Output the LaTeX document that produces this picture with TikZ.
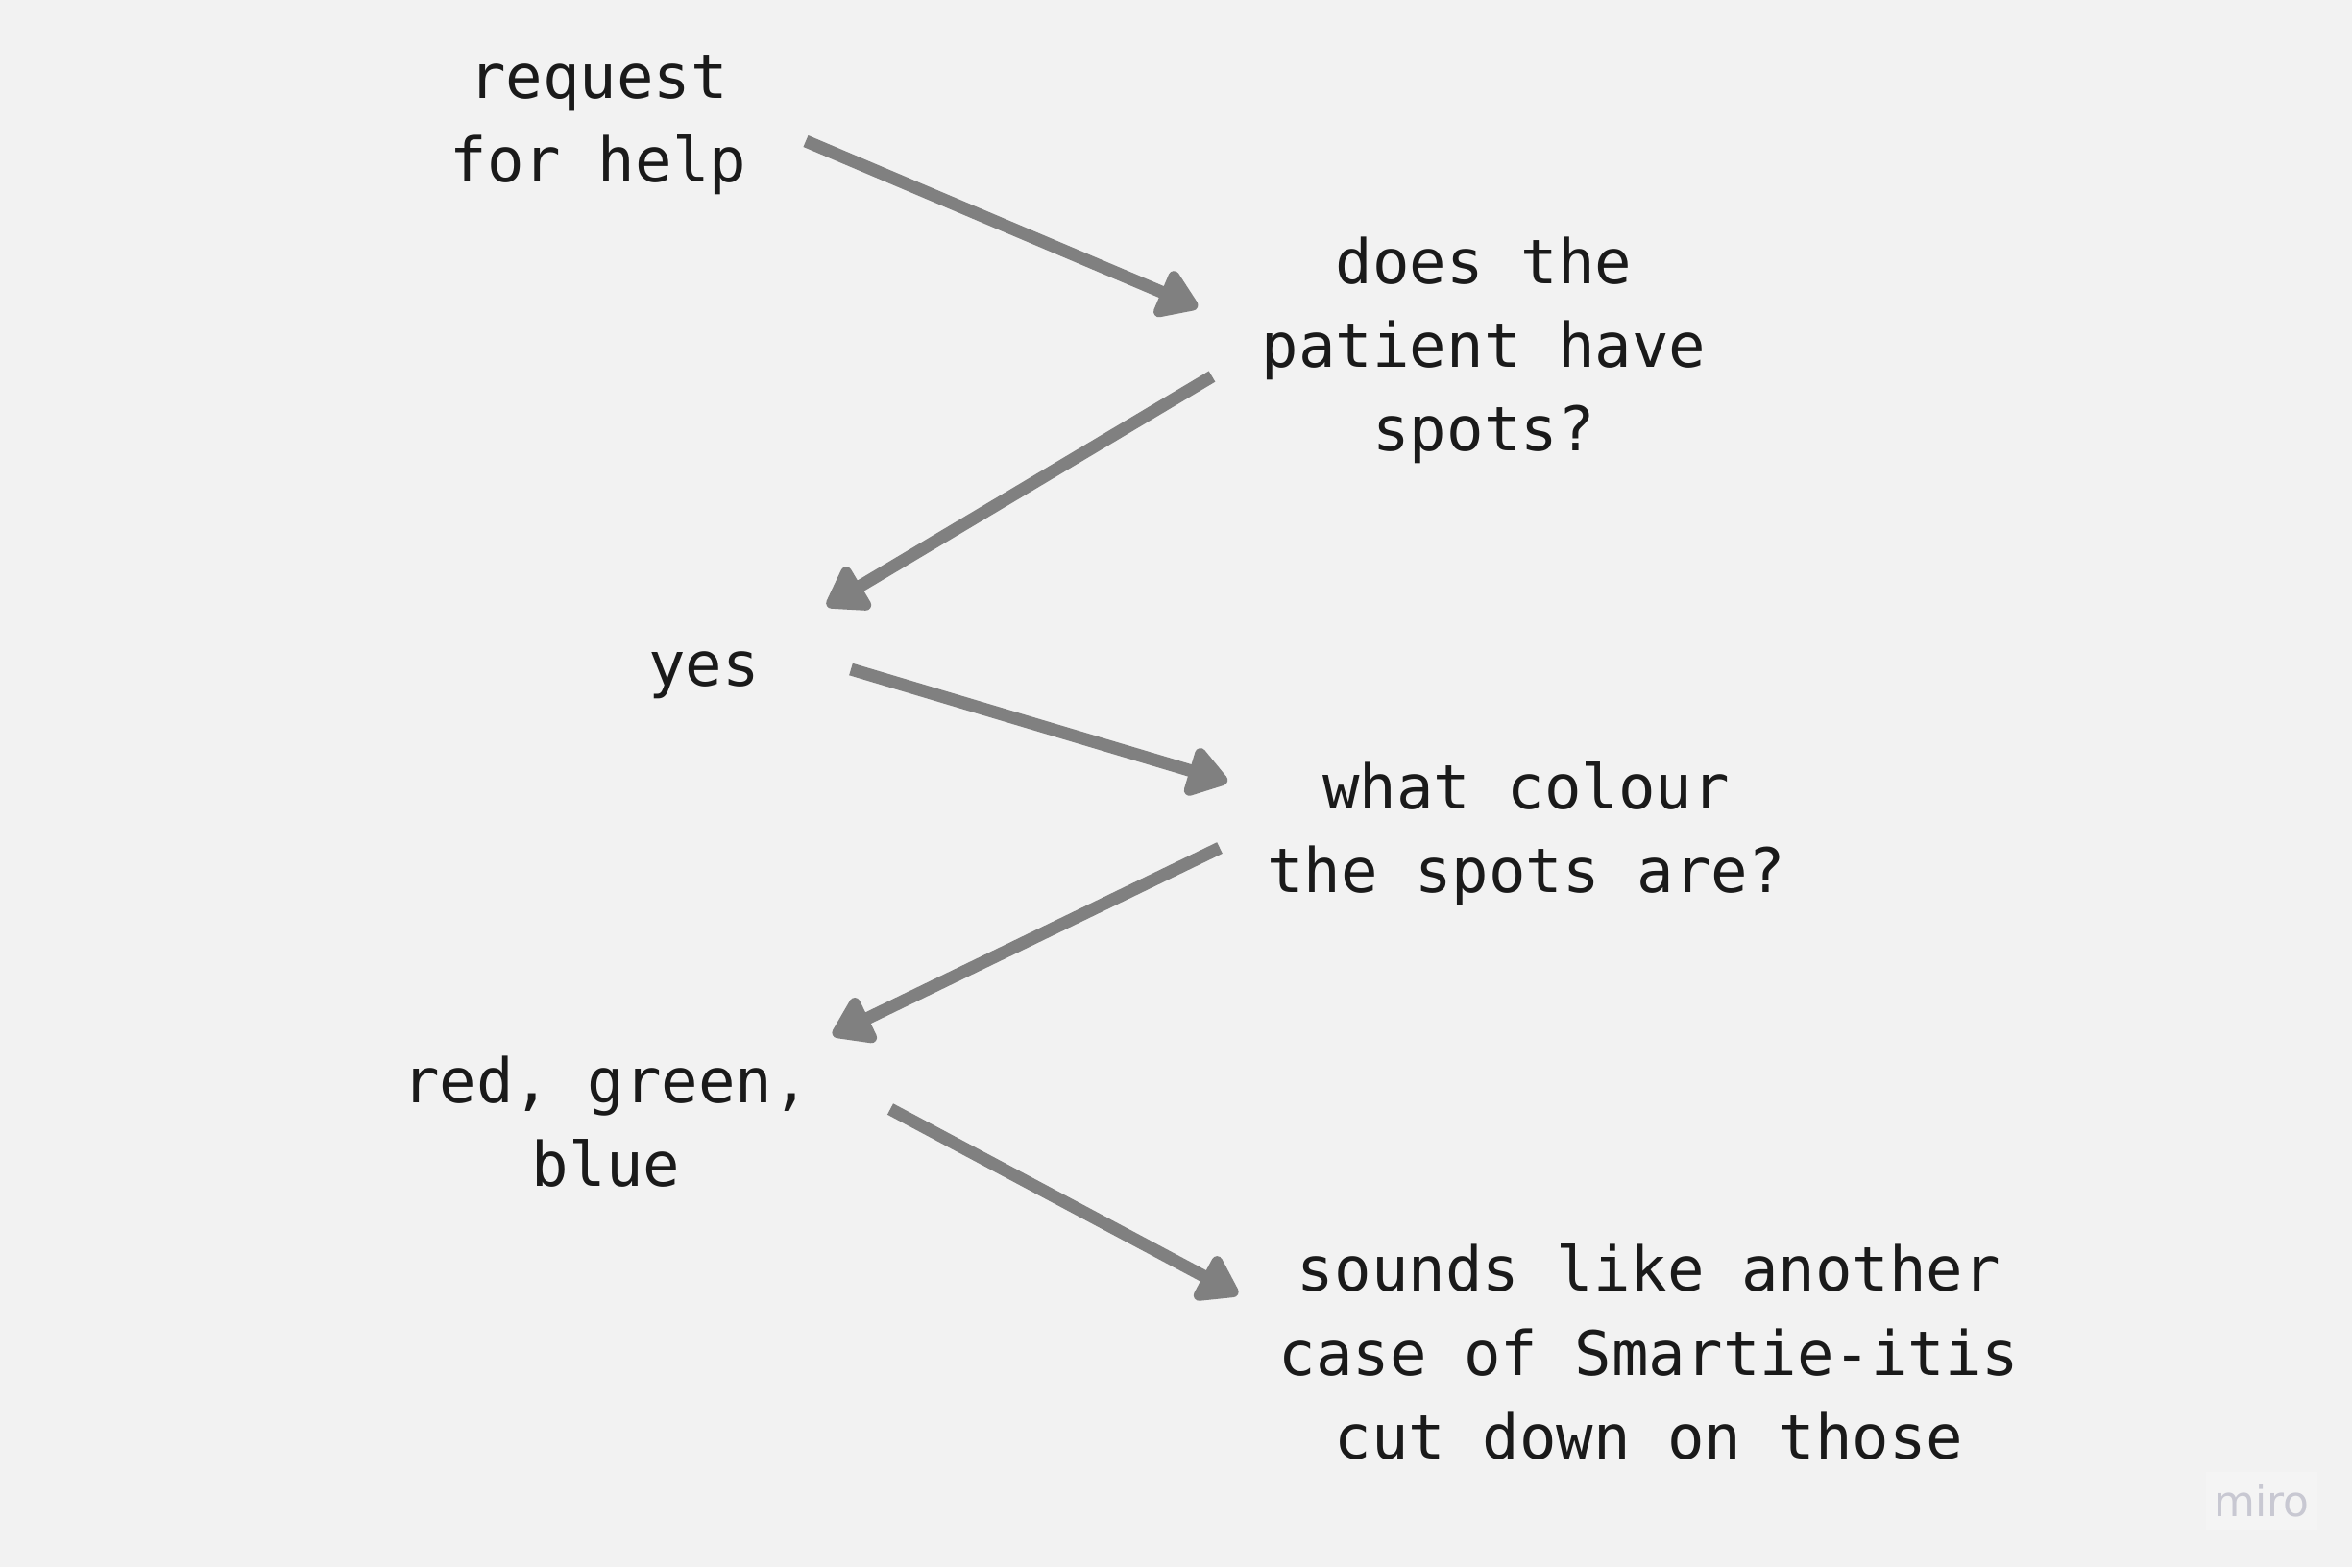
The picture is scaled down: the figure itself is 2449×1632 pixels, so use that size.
\documentclass[tikz,border=0pt]{standalone}
\usepackage{fontspec}
\setmonofont{DejaVu Sans Mono}
\newfontfamily\logofont{DejaVu Sans}
\usetikzlibrary{arrows.meta}
\definecolor{bgpaper}{HTML}{F2F2F2}
\definecolor{flowgrey}{HTML}{808080}
\definecolor{inktext}{HTML}{1A1A1A}
\definecolor{logogrey}{HTML}{C8C8D2}
\definecolor{logobox}{HTML}{F4F4F4}

\begin{document}
\begin{tikzpicture}[x=0.01cm,y=-0.01cm,
    note/.style={align=center,text=inktext,inner sep=0pt,
      font=\ttfamily\fontsize{18.2}{24.8}\selectfont},
    flow/.style={draw=flowgrey,line width=3.7pt,
      -{Triangle[length=0.46cm,width=0.58cm,round]}}]

    % paper
    \fill[bgpaper] (0,0) rectangle (2449,1632);
    \useasboundingbox (0,0) rectangle (2449,1632);

    % questions and answers
    \node[note] (req) at (623,130) {request\\for help};
    \node[note] (spots) at (1545,365) {does the\\patient have\\spots?};
    \node[note] (yes) at (733,703) {yes};
    \node[note] (colour) at (1589,868) {what colour\\the spots are?};
    \node[note] (rgb) at (631,1168) {red, green,\\blue};
    \node[note] (smartie) at (1717,1408) {sounds like another\\case of Smartie-itis\\cut down on those};

    % arrows
    \draw[flow] ([shift={(216,17)}]req.center) -- ([shift={(-298,-45)}]spots.center);
    \draw[flow] ([shift={(-283,27)}]spots.center) -- ([shift={(128,-72)}]yes.center);
    \draw[flow] ([shift={(153,-6)}]yes.center) -- ([shift={(-311,-54)}]colour.center);
    \draw[flow] ([shift={(-319,15)}]colour.center) -- ([shift={(236,-90)}]rgb.center);
    \draw[flow] ([shift={(296,-13)}]rgb.center) -- ([shift={(-428,-60)}]smartie.center);

    % logo
    \fill[logobox] (2297,1533) rectangle (2413,1593);
    \node[text=logogrey,inner sep=0pt,font=\logofont\fontsize{12.5}{12.5}\selectfont] (logo) at (2355,1563) {miro};
\end{tikzpicture}
\end{document}
